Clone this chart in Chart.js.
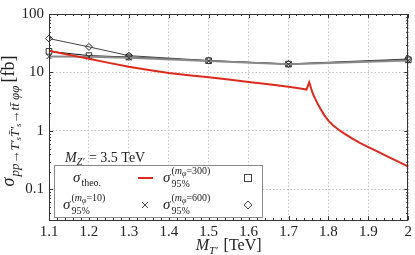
<!DOCTYPE html>
<html>
<head>
<meta charset="utf-8">
<script src="https://cdn.jsdelivr.net/npm/chart.js@4"></script>
<style>
  html, body { margin: 0; padding: 0; background: #fff; }
  #wrap { width: 415px; height: 255px; }
</style>
</head>
<body>
<div id="wrap"><canvas id="c" width="415" height="255"></canvas></div>
<script>
// theoretical cross section (red curve)
const massTheo = [1.1, 1.15, 1.2, 1.25, 1.3, 1.35, 1.4, 1.45, 1.5, 1.55, 1.6, 1.65, 1.7, 1.73, 1.745,
  1.752, 1.76, 1.765, 1.77, 1.775, 1.78, 1.79, 1.8, 1.81, 1.82, 1.83, 1.84, 1.86, 1.88, 1.9,
  1.925, 1.95, 1.975, 2.0];
const sigmaTheo = [23.5, 20.0, 17.2, 14.6, 12.5, 11.0, 9.8, 9.0, 8.3, 7.6, 6.9, 6.3, 5.7, 5.3, 5.1,
  6.8, 4.5, 3.8, 3.2, 2.75, 2.4, 1.85, 1.5, 1.28, 1.12, 1.0, 0.9, 0.74, 0.62, 0.53,
  0.44, 0.36, 0.30, 0.245];

// 95% CL limits
const massLimit = [1.1, 1.2, 1.3, 1.5, 1.7, 2.0];
const limit10 = [18.7, 18.5, 17.8, 15.7, 13.8, 16.0];
const limit300 = [23.0, 19.4, 18.4, 15.9, 13.9, 16.5];
const limit600 = [38.0, 27.4, 19.4, 16.0, 14.0, 17.0];

const xTicks = [1.1, 1.2, 1.3, 1.4, 1.5, 1.6, 1.7, 1.8, 1.9, 2.0];
const xTickLabels = ['1.1', '1.2', '1.3', '1.4', '1.5', '1.6', '1.7', '1.8', '1.9', '2'];
const yTicks = [0.1, 1, 10, 100];
const yTickLabels = ['0.1', '1', '10', '100'];

const SERIF = "'Liberation Serif', 'DejaVu Serif', serif";
const RED = '#dc2a1e';

const pts = (xs, ys) => xs.map((x, i) => ({ x: x, y: ys[i] }));

// draws a run of text pieces: [text, font, dy, extra gap]
function drawRun(ctx, x, y, parts) {
    let cx = x;
    parts.forEach(p => {
        ctx.font = p[1] + ' ' + SERIF;
        ctx.fillText(p[0], cx, y + (p[2] || 0));
        cx += ctx.measureText(p[0]).width + (p[3] || 0);
    });
    return cx;
}
function runWidth(ctx, parts) {
    let w = 0;
    parts.forEach(p => {
        ctx.font = p[1] + ' ' + SERIF;
        w += ctx.measureText(p[0]).width + (p[3] || 0);
    });
    return w;
}

// sigma_95%^(m_phi = N)
function drawSigmaLimit(ctx, x, y, mass) {
    ctx.font = 'italic 15px ' + SERIF;
    ctx.fillText('σ', x, y);
    const sx = x + ctx.measureText('σ').width + 1;
    ctx.font = '10px ' + SERIF;
    ctx.fillText('95%', sx, y + 5);
    drawRun(ctx, sx, y - 8, [
        ['(', '10px'], ['m', 'italic 10px'], ['φ', 'italic 8px', 2], ['=' + mass + ')', '10px']
    ]);
}

const framePlugin = {
    id: 'frame',
    afterDraw: (chart) => {
        const ctx = chart.ctx;
        const a = chart.chartArea;
        const xs = chart.scales.x;
        const ys = chart.scales.y;
        ctx.save();
        ctx.strokeStyle = '#333';
        ctx.lineWidth = 1;
        ctx.beginPath();
        // major + minor ticks on x (top and bottom)
        for (let i = 0; i <= 45; i++) {
            const v = 1.1 + i * 0.02;
            const px = Math.round(xs.getPixelForValue(v)) + 0.5;
            const len = (i % 5 === 0) ? 4 : 2;
            ctx.moveTo(px, a.bottom); ctx.lineTo(px, a.bottom - len);
            ctx.moveTo(px, a.top); ctx.lineTo(px, a.top + len);
        }
        // log ticks on y (left and right)
        for (let d = -2; d <= 1; d++) {
            for (let k = 1; k <= 9; k++) {
                const v = k * Math.pow(10, d);
                if (v < ys.min - 1e-9 || v > ys.max + 1e-9) continue;
                const py = Math.round(ys.getPixelForValue(v)) + 0.5;
                const len = (k === 1) ? 4 : 2;
                ctx.moveTo(a.left, py); ctx.lineTo(a.left + len, py);
                ctx.moveTo(a.right, py); ctx.lineTo(a.right - len, py);
            }
        }
        ctx.stroke();
        ctx.strokeRect(Math.round(a.left) + 0.5, Math.round(a.top) + 0.5,
            Math.round(a.right - a.left) - 1, Math.round(a.bottom - a.top));
        ctx.restore();

        // axis titles
        ctx.save();
        ctx.fillStyle = '#222';
        ctx.textBaseline = 'alphabetic';
        const xt = [['M', 'italic 16px'], ['T′', 'italic 11px', 4, 2], [' [TeV]', '16px']];
        const xw = runWidth(ctx, xt);
        drawRun(ctx, (a.left + a.right) / 2 - xw / 2, 250, xt);

        ctx.translate(14, (a.top + a.bottom) / 2 + 4);
        ctx.rotate(-Math.PI / 2);
        const yt = [
            ['σ', 'italic 18px', 0, 1],
            ['pp→T′', 'italic 13px', 5], ['s', 'italic 9px', 7],
            ['T̄′', 'italic 13px', 5], ['s', 'italic 9px', 7],
            ['→tt̄ φφ', 'italic 13px', 5, 3],
            ['[fb]', '18px', 0]
        ];
        const yw = runWidth(ctx, yt);
        drawRun(ctx, -yw / 2, 0, yt);
        ctx.restore();

        // legend
        ctx.save();
        ctx.fillStyle = '#222';
        drawRun(ctx, 65, 162, [['M', 'italic 14px'], ['Z′', 'italic 10px', 3, 1], [' = 3.5 TeV', '14px']]);
        ctx.fillStyle = '#fff';
        ctx.fillRect(54.5, 165.5, 208, 52);
        ctx.strokeStyle = '#8a8a8a';
        ctx.lineWidth = 1;
        ctx.strokeRect(54.5, 165.5, 208, 52);
        ctx.fillStyle = '#222';
        drawRun(ctx, 73, 182, [['σ', 'italic 15px', 0, 1], ['theo.', '10px', 4]]);
        ctx.strokeStyle = RED;
        ctx.lineWidth = 2;
        ctx.beginPath(); ctx.moveTo(138, 178); ctx.lineTo(153, 178); ctx.stroke();
        drawSigmaLimit(ctx, 163, 182, 300);
        drawSigmaLimit(ctx, 63, 209, 10);
        drawSigmaLimit(ctx, 163, 209, 600);
        ctx.strokeStyle = '#444';
        ctx.lineWidth = 1;
        ctx.strokeRect(244.5, 174.5, 7, 7);
        ctx.beginPath();
        ctx.moveTo(142, 202); ctx.lineTo(148, 208);
        ctx.moveTo(148, 202); ctx.lineTo(142, 208);
        ctx.moveTo(248, 201); ctx.lineTo(252, 205); ctx.lineTo(248, 209); ctx.lineTo(244, 205); ctx.closePath();
        ctx.stroke();
        ctx.restore();
    }
};

const gridOpts = {
    color: '#c4c4c4',
    lineWidth: 1,
    drawTicks: false
};

new Chart(document.getElementById('c'), {
    type: 'line',
    data: {
        datasets: [
            {
                label: 'theo',
                data: pts(massTheo, sigmaTheo),
                borderColor: RED,
                borderWidth: 2,
                pointRadius: 0,
                tension: 0
            },
            {
                label: 'm10',
                data: pts(massLimit, limit10),
                borderColor: '#8a8a8a',
                borderWidth: 2,
                pointStyle: 'crossRot',
                pointRadius: 3.5,
                pointBorderColor: '#333',
                pointBorderWidth: 1,
                pointBackgroundColor: 'rgba(0,0,0,0)'
            },
            {
                label: 'm300',
                data: pts(massLimit, limit300),
                borderColor: '#111',
                borderWidth: 1,
                pointStyle: 'rect',
                pointRadius: 4,
                pointBorderColor: '#333',
                pointBorderWidth: 1,
                pointBackgroundColor: 'rgba(0,0,0,0)'
            },
            {
                label: 'm600',
                data: pts(massLimit, limit600),
                borderColor: '#444',
                borderWidth: 1,
                pointStyle: 'rectRot',
                pointRadius: 3.5,
                pointBorderColor: '#333',
                pointBorderWidth: 1,
                pointBackgroundColor: 'rgba(0,0,0,0)'
            }
        ]
    },
    options: {
        responsive: false,
        animation: false,
        events: [],
        clip: false,
        layout: { padding: { top: 9, right: 4, left: 0, bottom: 0 } },
        plugins: {
            legend: { display: false },
            tooltip: { enabled: false }
        },
        scales: {
            x: {
                type: 'linear',
                min: 1.1,
                max: 2.0,
                afterBuildTicks: s => { s.ticks = xTicks.map(v => ({ value: v })); },
                afterFit: s => { s.height = 35; },
                grid: gridOpts,
                border: { display: false, dash: [1.5, 2] },
                ticks: {
                    padding: 3,
                    color: '#222',
                    maxRotation: 0,
                    font: { family: SERIF, size: 15 },
                    callback: (v, i) => xTickLabels[i]
                }
            },
            y: {
                type: 'logarithmic',
                min: 0.03,
                max: 100,
                afterBuildTicks: s => { s.ticks = yTicks.map(v => ({ value: v })); },
                afterFit: s => { s.width = 49; },
                grid: gridOpts,
                border: { display: false, dash: [1.5, 2] },
                ticks: {
                    padding: 5,
                    color: '#222',
                    font: { family: SERIF, size: 15 },
                    callback: (v, i) => yTickLabels[i]
                }
            }
        }
    },
    plugins: [framePlugin]
});
</script>
</body>
</html>
